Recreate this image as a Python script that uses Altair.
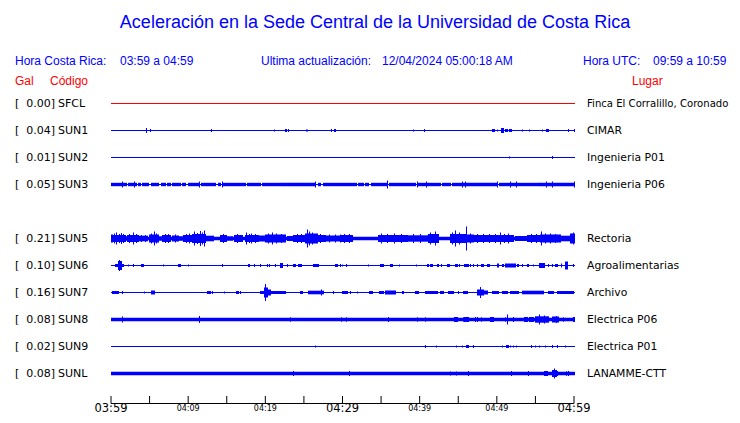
import altair as alt
import pandas as pd

# ---------------- data ----------------
title_text = "Aceleración en la Sede Central de la Universidad de Costa Rica"
hdr_cr_label = "Hora Costa Rica:"
hdr_cr_value = "03:59 a 04:59"
hdr_upd_label = "Ultima actualización:"
hdr_upd_value = "12/04/2024 05:00:18 AM"
hdr_utc_label = "Hora UTC:"
hdr_utc_value = "09:59 a 10:59"
col_gal = "Gal"
col_code = "Código"
col_place = "Lugar"

codes = ["SFCL", "SUN1", "SUN2", "SUN3", "SUN5", "SUN6", "SUN7", "SUN8", "SUN9", "SUNL"]
slots = [0, 1, 2, 3, 5, 6, 7, 8, 9, 10]          # station slot (SUN4 slot empty)
gal = [0.00, 0.04, 0.01, 0.05, 0.21, 0.10, 0.16, 0.08, 0.02, 0.08]
places = ["Finca El Corralillo, Coronado", "CIMAR", "Ingenieria P01", "Ingenieria P06",
          "Rectoria", "Agroalimentarias", "Archivo", "Electrica P06", "Electrica P01",
          "LANAMME-CTT"]
noise = [0.5, 0.5, 0.5, 0.5, 1.7, 0.5, 0.5, 1.7, 0.5, 1.7]   # background envelope half-width

# samples: 463 samples over the 60 minute window; bursts = (first sample, last sample, half-amplitude)
N_SAMPLES = 463
bursts_SFCL = []
bursts_SUN1 = [(35, 35, 2.5), (39, 39, 1.5), (100, 100, 1.5), (163, 163, 1), (174, 175, 1.5),
               (177, 177, 1.5), (195, 196, 1), (220, 220, 1.5), (223, 224, 1.5), (302, 302, 1),
               (313, 313, 1.5), (381, 382, 1.5), (383, 383, 1.5), (386, 386, 1), (390, 392, 2.5),
               (394, 396, 1.5), (398, 400, 1.5), (411, 411, 1), (418, 418, 1), (431, 431, 1),
               (435, 437, 1.5), (457, 457, 1.5), (463, 463, 1.5)]
bursts_SUN2 = [(398, 398, 1), (441, 441, 1.5)]
bursts_SUN3 = [(0, 7, 1.7), (8, 15, 1.7), (17, 25, 1.7), (27, 29, 1.7), (31, 37, 1.7), (40, 47, 1.7),
               (50, 54, 1.7), (56, 59, 1.7), (61, 69, 1.7), (71, 74, 1.7), (77, 88, 1.7), (90, 96, 1.7),
               (97, 104, 1.7), (107, 109, 1.7), (111, 134, 1.7), (136, 149, 1.7), (151, 161, 1.7),
               (162, 169, 1.7), (170, 204, 1.7), (207, 209, 1.7), (212, 241, 1.7), (242, 245, 1.7),
               (247, 252, 1.7), (254, 257, 1.7), (260, 276, 1.7), (278, 296, 1.7), (297, 304, 1.7),
               (306, 314, 1.7), (315, 329, 1.7), (331, 339, 1.7), (341, 351, 1.7), (352, 386, 1.7),
               (388, 399, 1.7), (400, 426, 1.7), (427, 463, 1.7),
               (11, 11, 3), (23, 23, 3), (88, 88, 3), (111, 111, 3), (204, 204, 3), (276, 276, 4),
               (306, 306, 3), (315, 315, 3), (351, 351, 3), (354, 354, 3), (386, 386, 3),
               (399, 399, 3), (405, 405, 3), (435, 435, 3), (441, 441, 3), (463, 463, 3)]
bursts_SUN5 = [(0, 1, 4), (1, 14, 3.5), (3, 3, 5), (5, 5, 6), (8, 8, 4.5), (10, 10, 5.5), (12, 12, 4.5),
               (14, 17, 2.2), (16, 27, 3.5), (18, 18, 4.5), (22, 22, 6), (25, 25, 4.5),
               (27, 36, 2.8), (30, 30, 3.5), (34, 34, 3.5), (38, 47, 4), (40, 40, 5), (43, 43, 7),
               (45, 45, 5), (47, 50, 2.2), (51, 59, 3.5), (54, 54, 4.5), (57, 57, 4.5), (61, 67, 3),
               (64, 64, 4), (67, 72, 2.2), (72, 81, 3.5), (75, 75, 4.5), (78, 78, 5),
               (81, 94, 4.5), (83, 83, 7), (86, 86, 5.5), (89, 89, 7.5), (91, 91, 6), (93, 93, 8),
               (94, 102, 2.8), (109, 115, 3.5), (112, 112, 4.5), (115, 121, 2.2), (123, 131, 3.5),
               (126, 126, 4.5), (134, 147, 3.5), (135, 135, 6), (138, 138, 4.5), (140, 140, 5),
               (144, 144, 4.5), (148, 154, 3), (154, 174, 4), (157, 157, 5), (161, 161, 6),
               (165, 165, 5), (170, 170, 4.5), (176, 181, 2.5), (182, 194, 3.5), (186, 186, 4.5),
               (190, 190, 4.5), (194, 206, 5), (196, 196, 9), (198, 198, 7), (201, 201, 6),
               (206, 214, 3.5), (209, 209, 4.5), (214, 234, 3), (218, 218, 4), (224, 224, 4),
               (229, 229, 4), (229, 241, 3.5), (233, 233, 4.5), (238, 238, 4.5),
               (267, 296, 3.5), (270, 270, 5), (276, 276, 4.5), (283, 283, 5), (290, 290, 4.5),
               (297, 316, 3.2), (302, 302, 4.5), (309, 309, 4.5), (317, 327, 4.5), (319, 319, 6),
               (324, 324, 7), (339, 354, 4.5), (341, 341, 6), (344, 344, 8), (348, 348, 6),
               (355, 355, 12), (356, 362, 4), (359, 359, 5), (362, 402, 3.5), (366, 366, 4.5),
               (372, 372, 4.5), (378, 378, 4.5), (384, 384, 4.5), (389, 389, 6), (393, 393, 4.5),
               (397, 397, 5), (404, 416, 2.5), (416, 429, 3.5), (420, 420, 4.5), (425, 425, 4.5),
               (429, 449, 4), (430, 430, 7), (434, 434, 5), (439, 439, 5), (444, 444, 4.5),
               (449, 459, 2.8), (459, 463, 5), (462, 462, 6)]
bursts_SUN6 = [(4, 7, 1.5), (7, 10, 4.5), (8, 8, 5.5), (10, 12, 1.5), (17, 17, 1), (22, 22, 1.5),
               (30, 32, 1.5), (52, 52, 1), (67, 69, 1.5), (77, 77, 1), (111, 111, 1.5), (137, 138, 1.5),
               (143, 143, 1.5), (149, 149, 1.5), (156, 156, 1.5), (158, 158, 1.5), (164, 164, 1.5),
               (169, 171, 2.5), (176, 176, 1.5), (182, 184, 1.5), (187, 190, 1.5), (202, 207, 1.5),
               (224, 226, 1.5), (229, 229, 1.5), (231, 231, 1), (235, 235, 1.5), (257, 257, 1),
               (269, 272, 1.5), (279, 281, 1.5), (288, 288, 1), (305, 305, 1), (316, 317, 1.5),
               (319, 321, 1.5), (326, 327, 1.5), (330, 330, 1.5), (336, 338, 1.5), (344, 346, 1.5),
               (348, 348, 1.5), (353, 357, 1.5), (359, 359, 1.5), (362, 362, 1.5), (366, 366, 1.5),
               (370, 372, 1.5), (376, 378, 1.5), (386, 387, 2), (391, 392, 1.5), (394, 404, 2),
               (406, 407, 1.5), (411, 411, 1.5), (416, 417, 1.5), (422, 422, 1), (428, 433, 2.5),
               (437, 437, 1.5), (441, 441, 1.5), (444, 446, 1.5), (450, 450, 2), (454, 456, 4),
               (462, 462, 1.5)]
bursts_SUN7 = [(1, 7, 1.5), (11, 11, 1.5), (33, 33, 1), (40, 43, 2), (96, 99, 1.5), (101, 101, 1.5),
               (113, 113, 1), (125, 127, 1.5), (129, 129, 1.5), (149, 152, 1.5), (153, 156, 5),
               (154, 154, 8.5), (156, 159, 3), (159, 174, 1.5), (189, 191, 1.5), (197, 212, 1.8),
               (210, 210, 3), (222, 222, 1.5), (231, 236, 1.5), (239, 239, 1.5), (246, 246, 1),
               (258, 261, 1.5), (268, 272, 1.5), (274, 284, 2), (291, 292, 1.5), (304, 307, 1.5),
               (314, 326, 1.5), (329, 332, 1.5), (337, 342, 1.5), (347, 347, 1.5), (352, 356, 1.5),
               (366, 372, 3), (369, 369, 5.5), (372, 376, 2), (381, 387, 1.5), (391, 396, 1.5),
               (399, 407, 1.5), (411, 432, 1.8), (437, 442, 1.5), (446, 462, 1.5)]
bursts_SUN8 = [(11, 11, 3), (88, 88, 3.5), (179, 179, 2.2), (230, 230, 2.2), (235, 235, 2.2),
               (277, 277, 2.5), (306, 306, 2.2), (314, 314, 2.2), (343, 346, 2.5), (352, 352, 2.2),
               (353, 357, 2.5), (364, 364, 2.5), (366, 366, 2.5), (370, 370, 2.2), (379, 382, 2.5),
               (394, 394, 2.2), (396, 396, 5), (402, 402, 2.5), (413, 416, 2.5), (418, 422, 2.5),
               (424, 437, 3.2), (428, 428, 5), (433, 433, 4), (441, 447, 3), (445, 445, 3.5),
               (452, 452, 2.2), (462, 463, 2.5)]
bursts_SUN9 = [(204, 204, 1), (314, 314, 1.5), (325, 325, 1), (345, 345, 1), (351, 351, 1),
               (355, 357, 1.5), (362, 362, 1.5), (391, 391, 1), (395, 397, 1.5), (399, 399, 1),
               (402, 402, 1), (405, 405, 1), (420, 420, 1.5), (424, 424, 1), (428, 428, 1),
               (434, 434, 1), (441, 441, 1.5), (446, 446, 1.5), (454, 454, 1)]
bursts_SUNL = [(182, 182, 2.5), (238, 238, 2.5), (339, 339, 2), (345, 345, 2), (357, 357, 2.5),
               (400, 400, 2.5), (417, 417, 2.5), (433, 436, 2.5), (441, 445, 3.5), (443, 443, 5),
               (446, 446, 2.5), (455, 455, 2.2), (457, 457, 2.5)]
bursts = [bursts_SFCL, bursts_SUN1, bursts_SUN2, bursts_SUN3, bursts_SUN5, bursts_SUN6,
          bursts_SUN7, bursts_SUN8, bursts_SUN9, bursts_SUNL]

tick_minutes = list(range(0, 61, 5))
tick_label_minutes = [0, 10, 20, 30, 40, 50, 60]
tick_labels = ["03:59", "04:09", "04:19", "04:29", "04:39", "04:49", "04:59"]
tick_label_big = [True, False, False, True, False, False, True]

# ---------------- build ----------------
ROW = 27
BLUE = "#0000ff"
RED = "#ff0000"
to_min = 60.0 / N_SAMPLES

recs = []
for code, slot, nz, bl in zip(codes, slots, noise, bursts):
    c = slot * ROW
    col = RED if code == "SFCL" else BLUE
    recs.append(dict(code=code, t0=0.0, t1=(N_SAMPLES + 1) * to_min, lo=c - nz, hi=c + nz, color=col))
    for s, e, a in bl:
        recs.append(dict(code=code, t0=s * to_min, t1=(e + 1) * to_min, lo=c - a, hi=c + a, color=col))
traces = pd.DataFrame(recs)

labels = pd.DataFrame(dict(code=codes, center=[s * ROW for s in slots],
                           galtxt=[f"{g:.2f}]" for g in gal], place=places, br=["["] * len(codes)))
# long place names are set a little smaller so they stay inside the canvas
labels["pfs"] = [10.1 if len(p) > 20 else 10.8 for p in places]
ticks = pd.DataFrame(dict(m=tick_minutes))
big_df = pd.DataFrame(dict(m=[m for m, b in zip(tick_label_minutes, tick_label_big) if b],
                           txt=[t for t, b in zip(tick_labels, tick_label_big) if b]))
small_df = pd.DataFrame(dict(m=[m for m, b in zip(tick_label_minutes, tick_label_big) if not b],
                             txt=[t for t, b in zip(tick_labels, tick_label_big) if not b]))
span_df = pd.DataFrame(dict(a=[0], b=[60]))

xs = alt.Scale(domain=[0, 60], nice=False, zero=False)
ys = alt.Scale(domain=[305.5, -13.5], nice=False, zero=False)

trace_layer = alt.Chart(traces).mark_rect().encode(
    x=alt.X("t0:Q", scale=xs, axis=None), x2="t1:Q",
    y=alt.Y("lo:Q", scale=ys, axis=None), y2="hi:Q",
    color=alt.Color("color:N", scale=None),
)

def row_text(field, dx, align, font="DejaVu Sans", size=11):
    return alt.Chart(labels).mark_text(align=align, baseline="middle", font=font,
                                        fontSize=size, color="black").encode(
        x=alt.value(dx), y=alt.Y("center:Q", scale=ys, axis=None), text=alt.Text(f"{field}:N"))

bracket = row_text("br", -96, "left")
galtext = row_text("galtxt", -56, "right")
codetext = row_text("code", -53, "left")
placetext = alt.Chart(labels).mark_text(align="left", baseline="middle", font="DejaVu Sans",
                                        color="black").encode(
    x=alt.value(476), y=alt.Y("center:Q", scale=ys, axis=None), text=alt.Text("place:N"),
    size=alt.Size("pfs:Q", scale=None, legend=None))

hdr = pd.DataFrame(dict(
    txt=[title_text, hdr_cr_label, hdr_cr_value, hdr_upd_label, hdr_upd_value,
         hdr_utc_label, hdr_utc_value, col_gal, col_code, col_place]))

def label(i, x, y, size, color, align="left", font="Liberation Sans"):
    return alt.Chart(hdr.iloc[[i]]).mark_text(align=align, baseline="middle", fontSize=size,
                                             color=color, font=font).encode(
        x=alt.value(x), y=alt.value(y), text=alt.Text("txt:N"))

header = [
    label(0, 264, -67, 18, BLUE, "center"),
    label(1, -96, -29, 12, BLUE),
    label(2, 9, -29, 12, BLUE),
    label(3, 150, -29, 12, BLUE),
    label(4, 271, -29, 12, BLUE),
    label(5, 472, -29, 12, BLUE),
    label(6, 542, -29, 12, BLUE),
    label(7, -96, -9, 12, RED),
    label(8, -61, -9, 12, RED),
    label(9, 521, -9, 12, RED),
]

AXIS_Y = 313.5
axis_line = alt.Chart(span_df).mark_rule(color="black", strokeWidth=1).encode(
    x=alt.X("a:Q", scale=xs, axis=None), x2="b:Q", y=alt.value(AXIS_Y))
tick_rules = alt.Chart(ticks).mark_rule(color="black", strokeWidth=1).encode(
    x=alt.X("m:Q", scale=xs, axis=None), y=alt.value(AXIS_Y - 7.5), y2=alt.value(AXIS_Y))
big_lbl = alt.Chart(big_df).mark_text(
    baseline="alphabetic", font="DejaVu Sans", fontSize=11.5, color="black").encode(
    x=alt.X("m:Q", scale=xs, axis=None), y=alt.value(322), text=alt.Text("txt:N"))
small_lbl = alt.Chart(small_df).mark_text(
    baseline="alphabetic", font="DejaVu Sans", fontSize=8, color="black").encode(
    x=alt.X("m:Q", scale=xs, axis=None), y=alt.value(321), text=alt.Text("txt:N"))

chart = alt.layer(trace_layer, bracket, galtext, codetext, placetext, axis_line, tick_rules,
                  big_lbl, small_lbl, *header).properties(
    width=463, height=319,
    autosize=alt.AutoSizeParams(type="none"),
    padding={"left": 103, "top": 82, "right": 158, "bottom": 6},
    background="white",
).configure_view(stroke=None)

chart.save("out.html", embed_options={"renderer": "svg", "actions": False})
